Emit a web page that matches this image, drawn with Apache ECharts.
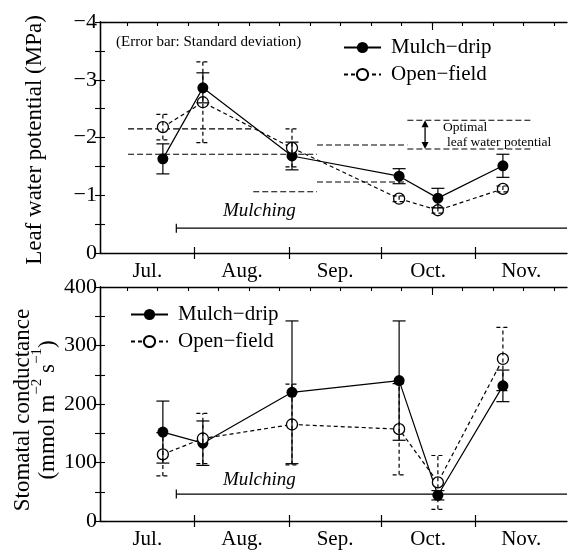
<!DOCTYPE html>
<html>
<head>
<meta charset="utf-8">
<script src="https://cdn.jsdelivr.net/npm/echarts@6/dist/echarts.min.js"></script>
<style>
  html, body { margin: 0; padding: 0; background: #fff; }
  #chart { width: 568px; height: 550px; }
</style>
</head>
<body>
<div id="chart"></div>
<script>
// x values are days counted from Jul. 1
var months = ['Jul.', 'Aug.', 'Sep.', 'Oct.', 'Nov.'];
var monthMids = [15.5, 46.5, 77, 107.5, 138];
var monthBounds = [31, 62, 92, 123];
var tenDayTicks = [8.8, 18.8, 28.8, 38.8, 48.8, 58.8, 68.8, 78.8, 88.8, 98.8, 108.8, 118.8, 128.8, 138.8, 148.8];
var days = [20.6, 33.7, 62.9, 98, 110.7, 132];

// leaf water potential (MPa)
var lwpMulch = [-1.63, -2.86, -1.68, -1.33, -0.95, -1.51];
var lwpMulchSd = [0.26, 0.26, 0.24, 0.13, 0.17, 0.20];
var lwpOpen = [-2.18, -2.61, -1.82, -0.94, -0.74, -1.11];
var lwpOpenSd = [0.22, 0.70, 0.33, 0.05, 0.05, 0.05];

// optimal leaf water potential ranges
var optStart = [9.2, 50.2, 71.1, 100.7];
var optEnd = [50.2, 71.1, 100.7, 142];
var optUpper = [-2.15, -1.71, -1.87, -2.30];
var optLower = [-1.71, -1.06, -1.23, -1.80];
var optArrow = [106.5, -2.30, -1.80];

// stomatal conductance (mmol m-2 s-1)
var gsMulch = [152, 133, 220, 240, 44, 231];
var gsMulchSd = [53, 38, 122, 102, 8, 27];
var gsOpen = [114, 141, 165, 157, 66, 277];
var gsOpenSd = [37, 43, 69, 78, 46, 54];

// mulching period: start, end, level (top, bottom)
var mulchSpan = [25, 153];
var mulchLevelLwp = -0.43;
var mulchLevelGs = 46;

var FONT = 'Liberation Serif';
var chart = echarts.init(document.getElementById('chart'));

function pairs(xs, ys) {
  return xs.map(function (x, i) { return [x, ys[i]]; });
}
function errData(xs, ys, sd) {
  return xs.map(function (x, i) { return [x, ys[i] - sd[i], ys[i] + sd[i]]; });
}

function errorBarRender(dash) {
  return function (params, api) {
    var x = api.value(0);
    var a = api.coord([x, api.value(1)]);
    var b = api.coord([x, api.value(2)]);
    var w = 6.5;
    var st = { stroke: '#000', lineWidth: 1.2, lineDash: dash, fill: null };
    return {
      type: 'group',
      children: [
        { type: 'line', shape: { x1: a[0], y1: a[1], x2: b[0], y2: b[1] }, style: st },
        { type: 'line', shape: { x1: a[0] - w, y1: a[1], x2: a[0] + w, y2: a[1] }, style: st },
        { type: 'line', shape: { x1: b[0] - w, y1: b[1], x2: b[0] + w, y2: b[1] }, style: st }
      ]
    };
  };
}

function hlineRender(params, api) {
  var a = api.coord([api.value(0), api.value(2)]);
  var b = api.coord([api.value(1), api.value(2)]);
  return {
    type: 'line',
    shape: { x1: a[0], y1: a[1], x2: b[0], y2: b[1] },
    style: { stroke: '#000', lineWidth: 1.1, lineDash: [6, 3] }
  };
}

function arrowRender(params, api) {
  var a = api.coord([api.value(0), api.value(1)]);
  var b = api.coord([api.value(0), api.value(2)]);
  var h = 7, w = 3.5;
  return {
    type: 'group',
    children: [
      { type: 'line', shape: { x1: a[0], y1: a[1] + h, x2: b[0], y2: b[1] - h }, style: { stroke: '#000', lineWidth: 1.3 } },
      { type: 'polygon', shape: { points: [[a[0], a[1]], [a[0] - w, a[1] + h], [a[0] + w, a[1] + h]] }, style: { fill: '#000' } },
      { type: 'polygon', shape: { points: [[b[0], b[1]], [b[0] - w, b[1] - h], [b[0] + w, b[1] - h]] }, style: { fill: '#000' } }
    ]
  };
}

function mulchRender(params, api) {
  var a = api.coord([api.value(0), api.value(2)]);
  var b = api.coord([api.value(1), api.value(2)]);
  var st = { stroke: '#000', lineWidth: 1.2 };
  return {
    type: 'group',
    children: [
      { type: 'line', shape: { x1: a[0], y1: a[1], x2: b[0], y2: b[1] }, style: st },
      { type: 'line', shape: { x1: a[0], y1: a[1] - 4.5, x2: a[0], y2: a[1] + 4.5 }, style: st }
    ]
  };
}

function xAxes(g) {
  var line = { show: true, lineStyle: { color: '#000', width: 1.3 } };
  return [
    {
      gridIndex: g, type: 'value', position: 'bottom', min: 0, max: 153,
      axisLine: line, splitLine: { show: false },
      axisTick: { show: true, inside: true, length: 6, customValues: monthBounds, lineStyle: { color: '#000', width: 1.2 } },
      axisLabel: {
        show: true, customValues: monthMids, margin: 8,
        fontFamily: FONT, fontSize: 21, color: '#000',
        formatter: function (v) { return months[monthMids.indexOf(v)] || ''; }
      }
    },
    {
      gridIndex: g, type: 'value', position: 'bottom', min: 0, max: 153,
      axisLine: { show: false }, splitLine: { show: false }, axisLabel: { show: false },
      axisTick: { show: true, inside: false, length: 6, customValues: monthBounds, lineStyle: { color: '#000', width: 1.2 } }
    },
    {
      gridIndex: g, type: 'value', position: 'top', min: 0, max: 153,
      axisLine: line, splitLine: { show: false }, axisLabel: { show: false },
      axisTick: { show: true, inside: true, length: 4, customValues: tenDayTicks, lineStyle: { color: '#000', width: 1.1 } }
    },
    {
      gridIndex: g, type: 'value', position: 'top', min: 0, max: 153,
      axisLine: { show: false }, splitLine: { show: false }, axisLabel: { show: false },
      axisTick: { show: true, inside: true, length: 8, customValues: [108.8], lineStyle: { color: '#000', width: 1.1 } }
    }
  ];
}

function yAxes(g, min, max, interval, inverse, fmt) {
  var tick = { show: true, inside: true, length: 5, lineStyle: { color: '#000', width: 1.1 } };
  var minor = { show: true, splitNumber: 2, length: 5, lineStyle: { color: '#000', width: 1.1 } };
  var line = { show: true, lineStyle: { color: '#000', width: 1.3 } };
  return [
    {
      gridIndex: g, type: 'value', position: 'left', min: min, max: max, interval: interval, inverse: inverse,
      axisLine: line, axisTick: tick, minorTick: minor, splitLine: { show: false },
      axisLabel: { margin: 3, fontFamily: FONT, fontSize: 22, color: '#000', formatter: fmt }
    },
    {
      gridIndex: g, type: 'value', position: 'right', min: min, max: max, interval: interval, inverse: inverse,
      axisLine: line, axisTick: tick, minorTick: minor, splitLine: { show: false },
      axisLabel: { show: false }
    }
  ];
}

function lineSeries(name, xi, yi, data, filled) {
  return {
    name: name, type: 'line', xAxisIndex: xi, yAxisIndex: yi, data: data,
    symbol: 'circle', symbolSize: 11, z: 2,
    lineStyle: { color: '#000', width: 1.2, type: filled ? 'solid' : [4, 3] },
    itemStyle: filled ? { color: '#000', borderColor: '#000', borderWidth: 0 }
                      : { color: '#fff', borderColor: '#000', borderWidth: 1.3 },
    emphasis: { disabled: true }, animation: false
  };
}

function customSeries(xi, yi, data, render, z) {
  return {
    type: 'custom', xAxisIndex: xi, yAxisIndex: yi, data: data, renderItem: render,
    z: z, silent: true, animation: false,
    encode: { x: [0, 1], y: [1, 2] }
  };
}

var optLines = [];
optStart.forEach(function (s, i) {
  optLines.push([s, optEnd[i], optUpper[i]]);
  optLines.push([s, optEnd[i], optLower[i]]);
});

function legendAt(left, top) {
  return {
    left: left, top: top, orient: 'vertical', itemWidth: 37, itemHeight: 14, itemGap: 6,
    data: ['Mulch−drip', 'Open−field'],
    textStyle: { fontFamily: FONT, fontSize: 21, color: '#000', padding: [0, 0, 0, 5] },
    selectedMode: false
  };
}

var option = {
  backgroundColor: '#fff',
  animation: false,
  textStyle: { fontFamily: FONT },
  grid: [
    { left: 100, top: 22, width: 467, height: 231 },
    { left: 100, top: 287, width: 467, height: 234 }
  ],
  xAxis: xAxes(0).concat(xAxes(1)),
  yAxis: yAxes(0, -4, 0, 1, true, function (v) { return v < 0 ? '−' + Math.abs(v) : String(v); })
    .concat(yAxes(1, 0, 400, 100, false, function (v) { return String(v); })),
  legend: [legendAt(338, 32), legendAt(125, 299)],
  series: [
    customSeries(0, 0, optLines, hlineRender, 1),
    customSeries(0, 0, [optArrow], arrowRender, 1),
    customSeries(0, 0, [[mulchSpan[0], mulchSpan[1], mulchLevelLwp]], mulchRender, 1),
    lineSeries('Mulch−drip', 0, 0, pairs(days, lwpMulch), true),
    lineSeries('Open−field', 0, 0, pairs(days, lwpOpen), false),
    customSeries(0, 0, errData(days, lwpMulch, lwpMulchSd), errorBarRender(null), 3),
    customSeries(0, 0, errData(days, lwpOpen, lwpOpenSd), errorBarRender([4, 3]), 3),

    customSeries(4, 2, [[mulchSpan[0], mulchSpan[1], mulchLevelGs]], mulchRender, 1),
    lineSeries('Mulch−drip', 4, 2, pairs(days, gsMulch), true),
    lineSeries('Open−field', 4, 2, pairs(days, gsOpen), false),
    customSeries(4, 2, errData(days, gsMulch, gsMulchSd), errorBarRender(null), 3),
    customSeries(4, 2, errData(days, gsOpen, gsOpenSd), errorBarRender([4, 3]), 3)
  ],
  graphic: [
    { type: 'text', left: 116, top: 35, style: { text: '(Error bar: Standard deviation)', fontFamily: FONT, fontSize: 15, fill: '#000' } },
    { type: 'text', left: 443, top: 120, style: { text: 'Optimal', fontFamily: FONT, fontSize: 13.5, fill: '#000' } },
    { type: 'text', left: 447, top: 135, style: { text: 'leaf water potential', fontFamily: FONT, fontSize: 13.5, fill: '#000' } },
    { type: 'text', left: 223, top: 201, style: { text: 'Mulching', fontFamily: FONT, fontSize: 19, fontStyle: 'italic', fill: '#000' } },
    { type: 'text', left: 223, top: 470, style: { text: 'Mulching', fontFamily: FONT, fontSize: 19, fontStyle: 'italic', fill: '#000' } },
    {
      type: 'text', x: 35, y: 140, rotation: Math.PI / 2,
      style: { text: 'Leaf water potential (MPa)', fontFamily: FONT, fontSize: 23, fill: '#000', align: 'center', verticalAlign: 'middle' }
    },
    {
      type: 'text', x: 23, y: 410, rotation: Math.PI / 2,
      style: { text: 'Stomatal conductance', fontFamily: FONT, fontSize: 23, fill: '#000', align: 'center', verticalAlign: 'middle' }
    },
    {
      type: 'text', x: 48, y: 410, rotation: Math.PI / 2,
      style: {
        text: '(mmol m{sup|−2} s{sup|−1})', fontFamily: FONT, fontSize: 23, fill: '#000',
        align: 'center', verticalAlign: 'middle', lineHeight: 36,
        rich: { sup: { fontFamily: FONT, fontSize: 15, lineHeight: 15, verticalAlign: 'top', fill: '#000' } }
      }
    }
  ]
};

chart.setOption(option);
</script>
</body>
</html>
